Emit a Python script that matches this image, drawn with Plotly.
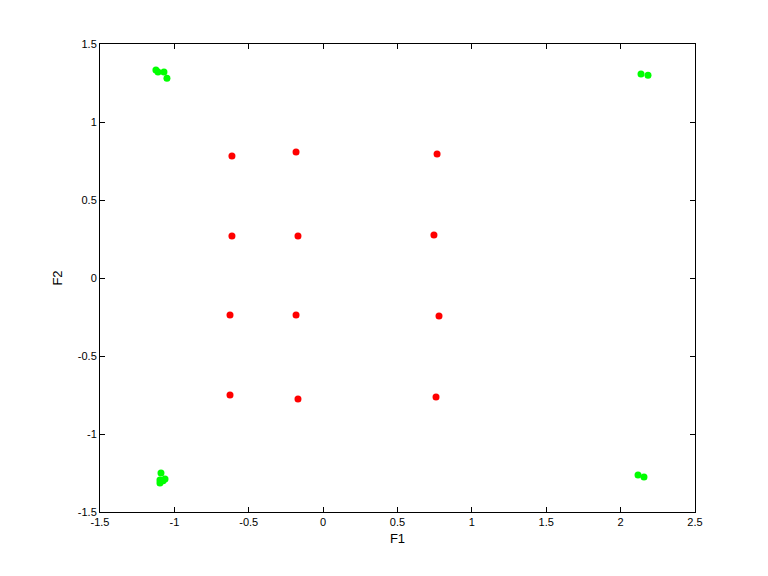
import plotly.graph_objects as go

# red cluster centres
red_x = [-0.613, -0.182, 0.766, -0.613, -0.169, 0.745, -0.626, -0.182, 0.779, -0.626, -0.169, 0.759]
red_y = [0.782, 0.808, 0.795, 0.269, 0.269, 0.276, -0.237, -0.237, -0.244, -0.750, -0.776, -0.763]

# green corner points
green_x = [-1.124, -1.11, -1.07, -1.05, -1.09, -1.097, -1.063, -1.097, -1.076, 2.137, 2.184, 2.117, 2.157]
green_y = [1.333, 1.32, 1.32, 1.28, -1.25, -1.295, -1.288, -1.314, -1.30, 1.308, 1.30, -1.263, -1.276]

tick_vals_x = [-1.5, -1, -0.5, 0, 0.5, 1, 1.5, 2, 2.5]
tick_vals_y = [-1.5, -1, -0.5, 0, 0.5, 1, 1.5]

fig = go.Figure()
fig.add_trace(go.Scatter(x=green_x, y=green_y, mode="markers",
                         marker=dict(color="#00ff00", size=7), showlegend=False))
fig.add_trace(go.Scatter(x=red_x, y=red_y, mode="markers",
                         marker=dict(color="#ff0000", size=7), showlegend=False))

axis_style = dict(
    showgrid=False, zeroline=False, showline=True, linecolor="black", linewidth=1,
    mirror="ticks", ticks="inside", ticklen=5, tickcolor="black",
    tickfont=dict(family="Liberation Sans, Arial", size=11, color="black"),
)

fig.update_layout(
    width=768, height=576,
    margin=dict(l=92, r=81, t=36, b=72),
    paper_bgcolor="white", plot_bgcolor="white",
    font=dict(family="Liberation Sans, Arial", size=11, color="black"),
    xaxis=dict(range=[-1.5, 2.5], tickvals=tick_vals_x,
               ticktext=[str(v) for v in tick_vals_x],
               title=dict(text="F1", standoff=6), **axis_style),
    yaxis=dict(range=[-1.5, 1.5], tickvals=tick_vals_y,
               ticktext=[str(v) for v in tick_vals_y],
               title=dict(text="F2", standoff=12), **axis_style),
)

fig.write_html("out.html")
